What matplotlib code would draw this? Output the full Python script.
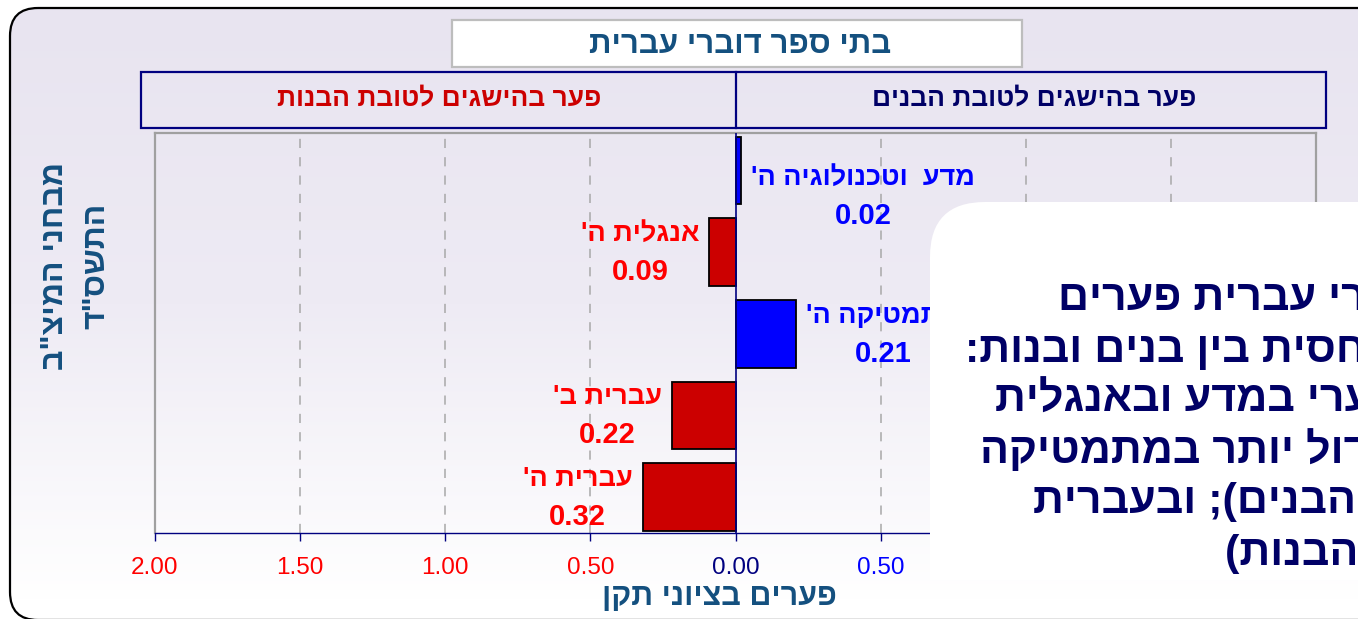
import numpy as np
import matplotlib
matplotlib.use("Agg")
import matplotlib.pyplot as plt
from matplotlib.patches import FancyBboxPatch, Rectangle
from matplotlib.colors import LinearSegmentedColormap

# ---------------- data ----------------
subjects = ["מדע  וטכנולוגיה ה'", "אנגלית ה'", "מתמטיקה ה'", "עברית ב'", "עברית ה'"]
gaps = [0.02, -0.09, 0.21, -0.22, -0.32]          # + favours boys, - favours girls
xticks = [-2.0, -1.5, -1.0, -0.5, 0.0, 0.5, 1.0, 1.5, 2.0]

title = "בתי ספר דוברי עברית"
girls_header = "פער בהישגים לטובת הבנות"
boys_header = "פער בהישגים לטובת הבנים"
xlabel = "פערים בציוני תקן"
ylabel_lines = ['מבחני המיצ"ב', 'התשס"ד']
note_lines = [
    "בבתי ספר דוברי עברית פערים",
    "קטנים יחסית בין בנים ובנות:",
    "פער מזערי במדע ובאנגלית",
    "פער גדול יותר במתמטיקה",
    "(לטובת הבנים); ובעברית",
    "(לטובת הבנות)",
]

# ---------------- helpers ----------------
MIRROR = {"(": ")", ")": "(", "[": "]", "]": "["}


def rtl(s):
    """Visual order for a right-to-left line (matplotlib has no bidi)."""
    return "".join(MIRROR.get(c, c) for c in reversed(s))


FONT = ["Liberation Sans", "DejaVu Sans"]
plt.rcParams["font.family"] = FONT

W, H = 1358, 619
fig = plt.figure(figsize=(W / 100, H / 100), dpi=100)
fig.patch.set_facecolor("white")

NAVY = "#000080"
TEAL = "#14507F"
DARKNAVY = "#000066"

# ---------------- background layer (pixel coordinates) ----------------
bg = fig.add_axes([0, 0, 1, 1], zorder=0)
bg.set_xlim(0, W)
bg.set_ylim(H, 0)
bg.axis("off")

frame = FancyBboxPatch((10, 8), 1420, 612, boxstyle="round,pad=0,rounding_size=28",
                       facecolor="none", edgecolor="black", lw=1.6, zorder=3)
bg.add_patch(frame)
grad = np.linspace(0, 1, 256).reshape(-1, 1)
cmap = LinearSegmentedColormap.from_list("g", ["#E8E4F0", "#EEEBF4", "#FFFFFF"])
im = bg.imshow(grad, cmap=cmap, extent=(10, 1430, 600, 8), aspect="auto", zorder=1)
im.set_clip_path(frame)
bg.set_xlim(0, W)
bg.set_ylim(H, 0)

# title box
bg.add_patch(Rectangle((452, 20), 570, 47, facecolor="white", edgecolor="#BDBDBD", lw=1.6, zorder=4))
bg.text(740, 45, rtl(title), ha="center", va="center", fontsize=22.5, fontweight="bold",
        color=TEAL, zorder=5)

# sub-header boxes
bg.add_patch(Rectangle((141, 72), 1185, 56, facecolor="none", edgecolor=NAVY, lw=1.6, zorder=4))
bg.plot([736, 736], [72, 128], color=NAVY, lw=1.6, zorder=4)
bg.text(439, 98, rtl(girls_header), ha="center", va="center", fontsize=19, fontweight="bold",
        color="#CC0000", zorder=5)
bg.text(1034, 98, rtl(boys_header), ha="center", va="center", fontsize=19, fontweight="bold",
        color=DARKNAVY, zorder=5)

# axis titles
bg.text(719, 597, rtl(xlabel), ha="center", va="center", fontsize=22, fontweight="bold",
        color=TEAL, zorder=5)
bg.text(76, 266, "\n".join(rtl(l) for l in ylabel_lines), ha="center", va="center",
        rotation=90, fontsize=23, fontweight="bold", color=TEAL, linespacing=1.5, zorder=5)

# ---------------- main chart ----------------
ax = fig.add_axes([155 / W, 1 - 533 / H, (1316 - 155) / W, (533 - 133) / H], zorder=2)
ax.patch.set_alpha(0)
ypos = np.arange(len(subjects))
colors = ["#0000FF" if g > 0 else "#CC0000" for g in gaps]
ax.barh(ypos, gaps, height=0.83, color=colors, edgecolor="black", lw=1.3, zorder=3)
ax.set_xlim(-2, 2)
ax.set_ylim(4.44, -0.46)

for xv in xticks:
    if xv != 0:
        ax.axvline(xv, color="#A8A8A8", lw=1.1, dashes=(6, 6), zorder=1)
ax.axvline(0, color=NAVY, lw=1.2, zorder=4)

ax.set_yticks([])
ax.set_xticks(xticks)
ax.set_xticklabels([f"{abs(v):.2f}" for v in xticks], fontsize=17.5)
ax.tick_params(axis="x", color=NAVY, length=6, width=1, pad=11)
for lab, v in zip(ax.get_xticklabels(), xticks):
    lab.set_color("#FF0000" if v < 0 else ("#0000FF" if v > 0 else NAVY))
for side in ("top", "left", "right"):
    ax.spines[side].set_color("#A0A0A0")
    ax.spines[side].set_linewidth(1.6)
ax.spines["bottom"].set_color(NAVY)
ax.spines["bottom"].set_linewidth(1.0)

# bar labels (name + value)
label_shift = [25, 0, 0, 0, 0]   # pixels down for the top label
for y, g, name, sh in zip(ypos, gaps, subjects, label_shift):
    c = "#0000FF" if g > 0 else "#FF0000"
    side = 1 if g > 0 else -1
    t = ax.annotate(rtl(name), xy=(g, y), xytext=(side * 10, 18 - sh), textcoords="offset pixels",
                    ha="left" if g > 0 else "right", va="center", fontsize=19.5,
                    fontweight="bold", color=c, zorder=6)
    ax.annotate(f"{abs(g):.2f}", xy=(0.5, 0.5), xycoords=t, xytext=(0, -38),
                textcoords="offset pixels", ha="center", va="center", fontsize=21,
                fontweight="bold", color=c, zorder=6)

# ---------------- foreground overlay note ----------------
fg = fig.add_axes([0, 0, 1, 1], zorder=10)
fg.set_xlim(0, W)
fg.set_ylim(H, 0)
fg.axis("off")
fg.add_patch(FancyBboxPatch((930, 202), 600, 378, boxstyle="round,pad=0,rounding_size=55",
                            facecolor="white", edgecolor="none", zorder=1))
fg.add_patch(Rectangle((930, 480), 200, 100, facecolor="white", edgecolor="none", zorder=1))
note_x = [1058, 965, 995, 980, 1033, 1225]
note_base = [310, 362, 412, 463, 513, 565]
for line, x0, yb in zip(note_lines, note_x, note_base):
    fg.text(x0, yb, rtl(line), ha="left", va="baseline", fontsize=31, fontweight="bold",
            color=DARKNAVY, zorder=2)

fig.savefig("out.png", dpi=100)
